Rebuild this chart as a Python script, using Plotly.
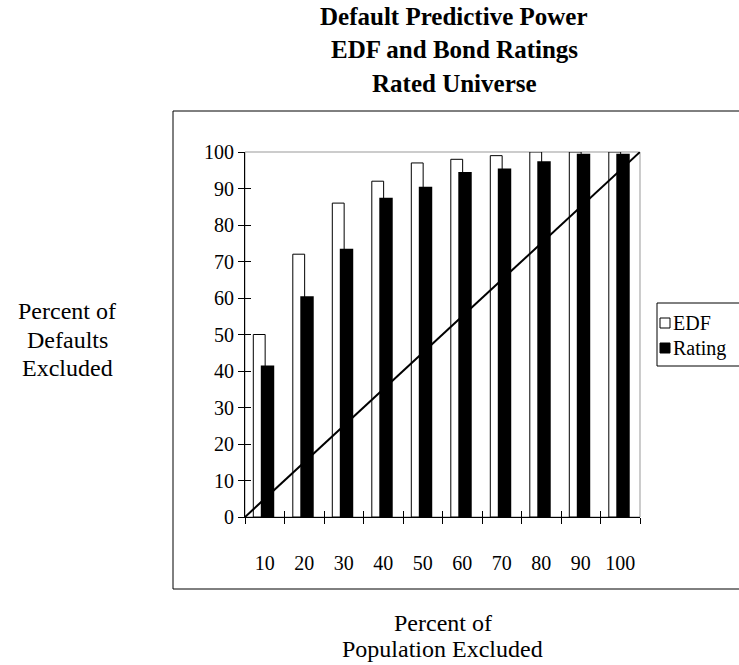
import plotly.graph_objects as go

categories = ["10", "20", "30", "40", "50", "60", "70", "80", "90", "100"]
edf = [50, 72, 86, 92, 97, 98, 99, 100, 100, 100]
rating = [41.5, 60.5, 73.5, 87.5, 90.5, 94.5, 95.5, 97.5, 99.5, 99.5]
diag_x = [0, 100]
diag_y = [0, 100]
series_names = ["EDF", "Rating"]
title_lines = ["Default Predictive Power", "EDF and Bond Ratings", "Rated Universe"]
ytitle_lines = ["Percent of", "Defaults", "Excluded"]
xtitle_lines = ["Percent of", "Population Excluded"]

FONT = "Liberation Serif"
W, H = 739, 665
L, R, T, B = 245, 99, 152, 148
PW, PH = W - L - R, H - T - B


def px(x):
    return (x - L) / PW


def py(y):
    return (H - B - y) / PH


fig = go.Figure()
fig.add_trace(go.Bar(x=categories, y=edf, name=series_names[0], width=0.3, offset=-0.29,
                     marker=dict(color="white", line=dict(color="black", width=1))))
fig.add_trace(go.Bar(x=categories, y=rating, name=series_names[1], width=0.34, offset=-0.1,
                     marker=dict(color="black", line=dict(color="black", width=0))))
fig.add_trace(go.Scatter(x=diag_x, y=diag_y, mode="lines", xaxis="x2", yaxis="y2",
                         line=dict(color="black", width=2), showlegend=False, hoverinfo="skip"))

fig.update_layout(
    width=W, height=H,
    margin=dict(l=L, r=R, t=T, b=B, autoexpand=False),
    paper_bgcolor="white", plot_bgcolor="white",
    barmode="overlay",
    font=dict(family=FONT, size=20, color="black"),
    showlegend=False,
    xaxis=dict(type="category", tickson="boundaries", ticks="outside", ticklen=6,
               tickcolor="black", showline=True, linecolor="black", linewidth=1,
               showgrid=False, zeroline=False, ticklabelstandoff=28,
               tickfont=dict(family=FONT, size=20)),
    xaxis2=dict(overlaying="x", range=[0, 100], tickvals=list(range(0, 101, 10)),
                ticks="inside", ticklen=6, tickcolor="black", showticklabels=False,
                showline=False, showgrid=False, zeroline=False),
    yaxis=dict(range=[0, 100], dtick=10, ticks="outside", ticklen=6, tickcolor="black",
               showline=True, linecolor="black", linewidth=1, showgrid=False,
               zeroline=False, tickfont=dict(family=FONT, size=20)),
    yaxis2=dict(overlaying="y", range=[0, 100], dtick=10, ticks="inside", ticklen=6,
                tickcolor="black", showticklabels=False, showline=False,
                showgrid=False, zeroline=False),
)

shapes = [
    dict(type="rect", xref="paper", yref="paper", x0=0, x1=1, y0=0, y1=1,
         line=dict(color="#999999", width=1), layer="below"),
    dict(type="rect", xref="paper", yref="paper", x0=px(173), x1=px(760), y0=py(589), y1=py(111),
         line=dict(color="black", width=1), layer="below"),
    # legend box and swatches
    dict(type="rect", xref="paper", yref="paper", x0=px(657), x1=px(760), y0=py(366), y1=py(303),
         line=dict(color="black", width=1), fillcolor="white"),
    dict(type="rect", xref="paper", yref="paper", x0=px(660), x1=px(670), y0=py(328), y1=py(318),
         line=dict(color="black", width=1), fillcolor="white"),
    dict(type="rect", xref="paper", yref="paper", x0=px(660), x1=px(670), y0=py(353), y1=py(343),
         line=dict(color="black", width=1), fillcolor="black"),
]
fig.update_layout(shapes=shapes)

annotations = []
for i, t in enumerate(title_lines):
    annotations.append(dict(text="<b>" + t + "</b>", xref="paper", yref="paper",
                            x=px(454), y=py(16 + 33.5 * i), xanchor="center", yanchor="middle",
                            showarrow=False, font=dict(family=FONT, size=25)))
for i, t in enumerate(ytitle_lines):
    annotations.append(dict(text=t, xref="paper", yref="paper",
                            x=px(67), y=py(311 + 28.5 * i),
                            xanchor="center", yanchor="middle", showarrow=False,
                            font=dict(family=FONT, size=24)))
for i, t in enumerate(xtitle_lines):
    annotations.append(dict(text=t, xref="paper", yref="paper",
                            x=0.5, y=py(623 + 26 * i),
                            xanchor="center", yanchor="middle", showarrow=False,
                            font=dict(family=FONT, size=24)))
for i, t in enumerate(series_names):
    annotations.append(dict(text=t, xref="paper", yref="paper",
                            x=px(671), y=py(323 + 25 * i), xanchor="left", yanchor="middle",
                            showarrow=False, font=dict(family=FONT, size=20)))
fig.update_layout(annotations=annotations)

fig.write_html("out.html")
